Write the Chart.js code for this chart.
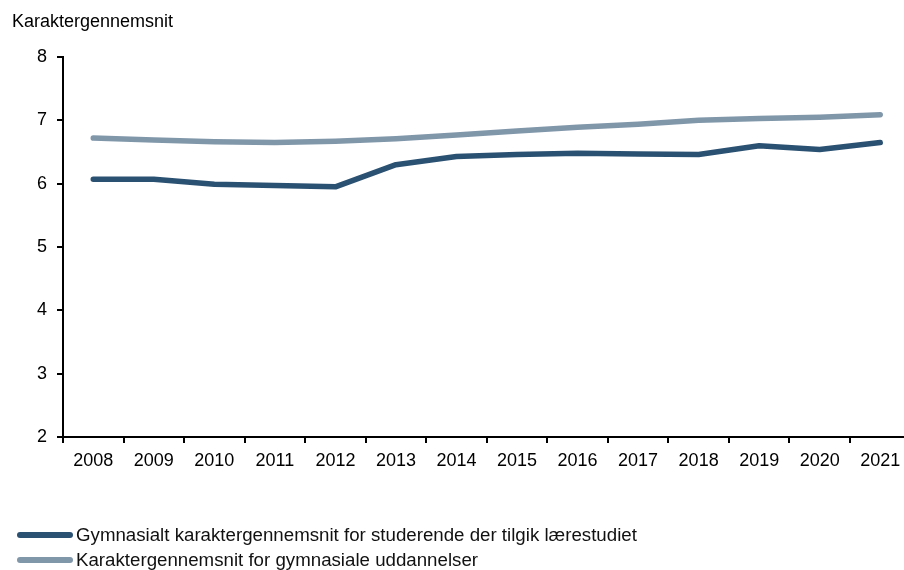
<!DOCTYPE html>
<html>
<head>
<meta charset="utf-8">
<script src="https://cdn.jsdelivr.net/npm/chart.js@4.4.1/dist/chart.umd.min.js"></script>
<style>
  html, body { margin: 0; padding: 0; background: #fff; overflow: hidden; }
  #wrap { position: relative; width: 904px; height: 570px; overflow: hidden; }
  #c { position: absolute; left: 0; top: 0; }
  .txt { position: absolute; font-family: "Liberation Sans", Arial, sans-serif; color: #000; white-space: nowrap; line-height: 20px; }
  #ytitle { left: 12px; top: 11px; font-size: 18px; }
  .leg { position: absolute; left: 17px; height: 20px; display: flex; align-items: center; font-family: "Liberation Sans", Arial, sans-serif; font-size: 18.7px; color: #111; white-space: nowrap; }
  .leg span.sw { display: inline-block; width: 56px; height: 6px; border-radius: 3px; margin-right: 3px; }
</style>
</head>
<body>
<div id="wrap">
  <canvas id="c" width="912" height="570" style="width:912px;height:570px"></canvas>
  <div class="txt" id="ytitle">Karaktergennemsnit</div>
  <div class="leg" id="leg1" style="top:525px"><span class="sw" id="sw1"></span><span id="lt1"></span></div>
  <div class="leg" id="leg2" style="top:550px"><span class="sw" id="sw2"></span><span id="lt2"></span></div>
</div>
<script>
const years = ["2008","2009","2010","2011","2012","2013","2014","2015","2016","2017","2018","2019","2020","2021"];
const seriesNames = [
  "Gymnasialt karaktergennemsnit for studerende der tilgik lærestudiet",
  "Karaktergennemsnit for gymnasiale uddannelser"
];
const teacherStudents = [6.07, 6.07, 5.99, 5.97, 5.95, 6.30, 6.43, 6.46, 6.48, 6.47, 6.46, 6.60, 6.54, 6.65];
const allUpperSecondary = [6.72, 6.69, 6.66, 6.65, 6.67, 6.71, 6.77, 6.83, 6.89, 6.94, 7.00, 7.03, 7.05, 7.09];
const yTicks = [2, 3, 4, 5, 6, 7, 8];

const darkColor = "#2b5172";
const lightColor = "#8097aa";
const FONT = "'Liberation Sans', Arial, sans-serif";

document.getElementById("sw1").style.background = darkColor;
document.getElementById("sw2").style.background = lightColor;
document.getElementById("lt1").textContent = seriesNames[0];
document.getElementById("lt2").textContent = seriesNames[1];

new Chart(document.getElementById("c"), {
  type: "line",
  data: {
    labels: years,
    datasets: [
      { label: seriesNames[0], data: teacherStudents, borderColor: darkColor, backgroundColor: darkColor,
        borderWidth: 5.5, pointRadius: 0, tension: 0, borderCapStyle: "round", borderJoinStyle: "round" },
      { label: seriesNames[1], data: allUpperSecondary, borderColor: lightColor, backgroundColor: lightColor,
        borderWidth: 5.5, pointRadius: 0, tension: 0, borderCapStyle: "round", borderJoinStyle: "round" }
    ]
  },
  options: {
    responsive: false,
    animation: false,
    devicePixelRatio: 1,
    layout: { padding: { left: 0, right: 1.5, top: 57, bottom: 93 } },
    plugins: { legend: { display: false }, tooltip: { enabled: false }, title: { display: false } },
    scales: {
      x: {
        offset: true,
        grid: { display: true, drawOnChartArea: false, drawTicks: true, tickLength: 6, color: "#000", lineWidth: 2, offset: true },
        border: { display: true, color: "#000", width: 2 },
        ticks: { color: "#000", font: { family: FONT, size: 18 }, padding: 7, maxRotation: 0, autoSkip: false },
        afterFit: s => { s.height = 40; }
      },
      y: {
        min: 2, max: 8,
        afterBuildTicks: s => { s.ticks = yTicks.map(v => ({ value: v })); },
        grid: { display: true, drawOnChartArea: false, drawTicks: true, tickLength: 6, color: "#000", lineWidth: 2 },
        border: { display: true, color: "#000", width: 2 },
        ticks: { color: "#000", font: { family: FONT, size: 18 }, padding: 10 },
        afterFit: s => { s.width = 63; }
      }
    }
  }
});
</script>
</body>
</html>
